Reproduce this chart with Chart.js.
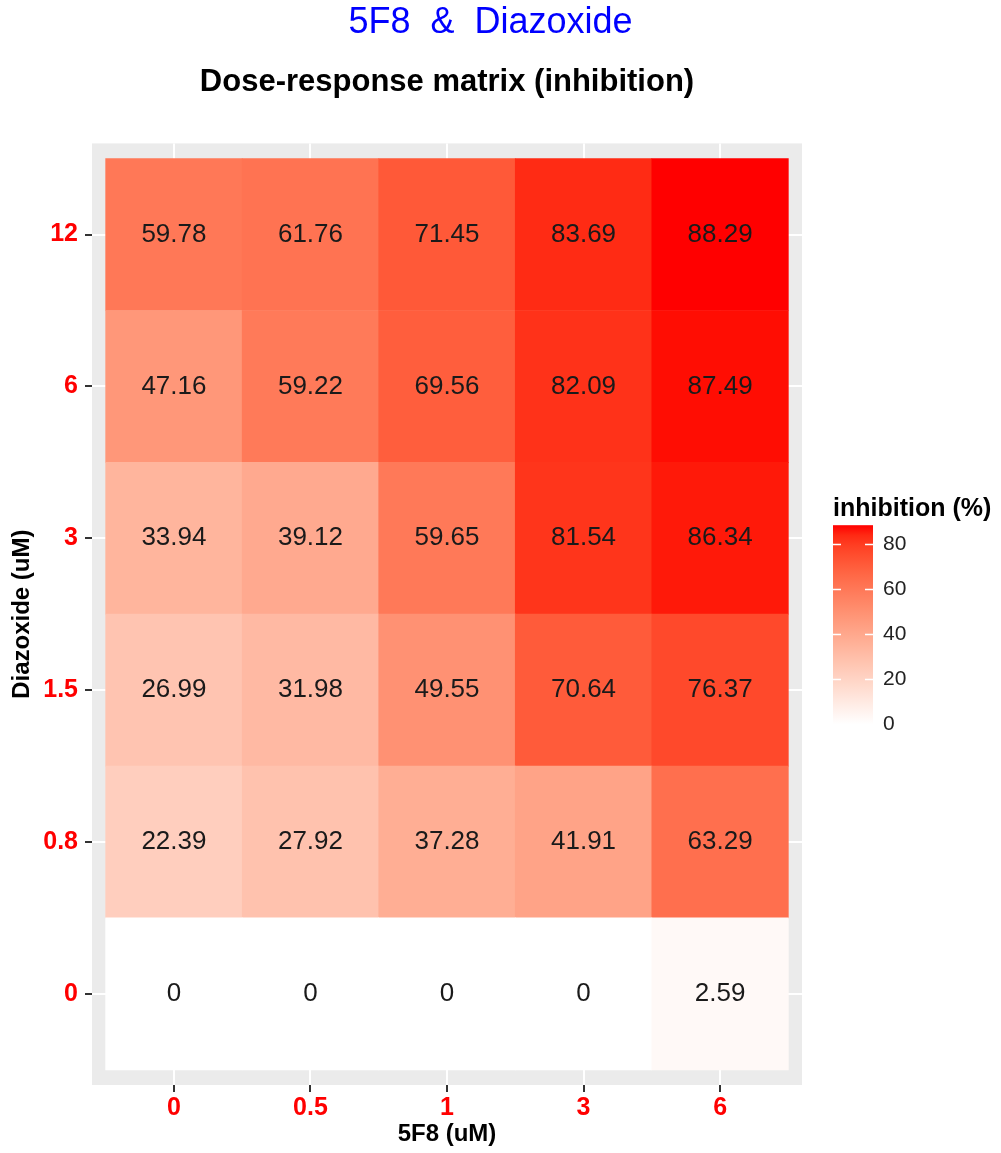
<!DOCTYPE html>
<html>
<head>
<meta charset="utf-8">
<title>5F8 &amp; Diazoxide</title>
<script src="https://cdn.jsdelivr.net/npm/chart.js@4/dist/chart.umd.min.js"></script>
<style>
  html, body { margin: 0; padding: 0; background: #ffffff; }
  #wrap { width: 1001px; height: 1153px; }
  canvas { display: block; }
</style>
</head>
<body>
<div id="wrap"><canvas id="heatmap" width="1001" height="1153"></canvas></div>
<script>
// Doses on each axis (tick labels)
const doses5F8 = ['0', '0.5', '1', '3', '6'];
const dosesDiazoxide = ['0', '0.8', '1.5', '3', '6', '12'];

// Inhibition (%) for each Diazoxide dose, across the 5F8 doses
const inhibitionDiazoxide0   = [0, 0, 0, 0, 2.59];
const inhibitionDiazoxide0_8 = [22.39, 27.92, 37.28, 41.91, 63.29];
const inhibitionDiazoxide1_5 = [26.99, 31.98, 49.55, 70.64, 76.37];
const inhibitionDiazoxide3   = [33.94, 39.12, 59.65, 81.54, 86.34];
const inhibitionDiazoxide6   = [47.16, 59.22, 69.56, 82.09, 87.49];
const inhibitionDiazoxide12  = [59.78, 61.76, 71.45, 83.69, 88.29];

// Colour bar breaks
const legendBreaks = [0, 20, 40, 60, 80];

const inhibitionRows = [
  inhibitionDiazoxide0, inhibitionDiazoxide0_8, inhibitionDiazoxide1_5,
  inhibitionDiazoxide3, inhibitionDiazoxide6, inhibitionDiazoxide12
];

const FONT = '"Liberation Sans", Arial, Helvetica, sans-serif';
const allValues = inhibitionRows.flat();
const fillMin = Math.min(...allValues);
const fillMax = Math.max(...allValues);

// ---- white -> red gradient interpolated in CIE Lab ----
function srgbToLin(c) { c /= 255; return c <= 0.04045 ? c / 12.92 : Math.pow((c + 0.055) / 1.055, 2.4); }
function linToSrgb(c) {
  c = Math.max(0, Math.min(1, c));
  return Math.round(255 * (c <= 0.0031308 ? 12.92 * c : 1.055 * Math.pow(c, 1 / 2.4) - 0.055));
}
const WX = 0.95047, WY = 1.0, WZ = 1.08883;
function rgbToLab([r, g, b]) {
  const R = srgbToLin(r), G = srgbToLin(g), B = srgbToLin(b);
  const X = (0.4124 * R + 0.3576 * G + 0.1805 * B) / WX;
  const Y = (0.2126 * R + 0.7152 * G + 0.0722 * B) / WY;
  const Z = (0.0193 * R + 0.1192 * G + 0.9505 * B) / WZ;
  const f = t => t > 0.008856 ? Math.cbrt(t) : 7.787 * t + 16 / 116;
  const fx = f(X), fy = f(Y), fz = f(Z);
  return [116 * fy - 16, 500 * (fx - fy), 200 * (fy - fz)];
}
function labToRgb([L, a, bb]) {
  const fy = (L + 16) / 116, fx = fy + a / 500, fz = fy - bb / 200;
  const finv = t => t * t * t > 0.008856 ? t * t * t : (t - 16 / 116) / 7.787;
  const X = finv(fx) * WX, Y = finv(fy) * WY, Z = finv(fz) * WZ;
  const R = 3.2406 * X - 1.5372 * Y - 0.4986 * Z;
  const G = -0.9689 * X + 1.8758 * Y + 0.0415 * Z;
  const B = 0.0557 * X - 0.2040 * Y + 1.0570 * Z;
  return [linToSrgb(R), linToSrgb(G), linToSrgb(B)];
}
const labLow = rgbToLab([255, 255, 255]);
const labHigh = rgbToLab([255, 0, 0]);
function fillFor(v) {
  const t = Math.max(0, Math.min(1, (v - fillMin) / (fillMax - fillMin)));
  const lab = labLow.map((l, i) => l + (labHigh[i] - l) * t);
  const [r, g, b] = labToRgb(lab);
  return `rgb(${r},${g},${b})`;
}

// ---- plot panel background ----
const panelBackground = {
  id: 'panelBackground',
  beforeDraw(chart) {
    const { ctx, chartArea: a } = chart;
    ctx.save();
    ctx.fillStyle = '#ffffff';
    ctx.fillRect(0, 0, chart.width, chart.height);
    ctx.fillStyle = '#EBEBEB';
    ctx.fillRect(a.left, a.top, a.right - a.left, a.bottom - a.top);
    ctx.restore();
  }
};

// ---- value labels in every tile ----
const tileLabels = {
  id: 'tileLabels',
  afterDatasetsDraw(chart) {
    const { ctx } = chart;
    ctx.save();
    ctx.font = `26px ${FONT}`;
    ctx.fillStyle = '#1a1a1a';
    ctx.textAlign = 'center';
    ctx.textBaseline = 'middle';
    chart.data.datasets.forEach((ds, r) => {
      const meta = chart.getDatasetMeta(r);
      meta.data.forEach((bar, c) => {
        const v = inhibitionRows[r][c];
        ctx.fillText(String(v), bar.x, (bar.y + bar.base) / 2);
      });
    });
    ctx.restore();
  }
};

// ---- colour bar legend as a layout box on the right ----
const colorbarBox = {
  position: 'right',
  weight: 0,
  fullSize: false,
  options: {},
  top: 0, left: 0, right: 0, bottom: 0, width: 0, height: 0,
  isHorizontal() { return false; },
  update(maxWidth, maxHeight) {
    this.width = 179;
    this.height = maxHeight;
    return { width: this.width, height: this.height };
  },
  draw() {
    const chart = this.chart;
    const ctx = chart.ctx;
    const mid = (chart.chartArea.top + chart.chartArea.bottom) / 2;
    const barLeft = this.left + 31, barW = 40;
    const barBottom = mid + 110, barTop = mid - 89;
    const yFor = v => barBottom - (v - fillMin) / (fillMax - fillMin) * (barBottom - barTop);

    ctx.save();
    // title
    ctx.font = `bold 25px ${FONT}`;
    ctx.fillStyle = '#000000';
    ctx.textAlign = 'left';
    ctx.textBaseline = 'middle';
    ctx.fillText('inhibition (%)', barLeft, barTop - 16);

    // gradient bar
    const grad = ctx.createLinearGradient(0, barBottom, 0, barTop);
    for (let i = 0; i <= 20; i++) {
      const t = i / 20;
      grad.addColorStop(t, fillFor(fillMin + t * (fillMax - fillMin)));
    }
    ctx.fillStyle = grad;
    ctx.fillRect(barLeft, barTop, barW, barBottom - barTop);

    // break marks and labels
    ctx.strokeStyle = '#ffffff';
    ctx.lineWidth = 1.5;
    ctx.font = `21px ${FONT}`;
    ctx.fillStyle = '#222222';
    legendBreaks.forEach(b => {
      const y = Math.round(yFor(b)) + 0.5;
      ctx.beginPath();
      ctx.moveTo(barLeft, y); ctx.lineTo(barLeft + 8, y);
      ctx.moveTo(barLeft + barW - 8, y); ctx.lineTo(barLeft + barW, y);
      ctx.stroke();
      ctx.fillText(String(b), barLeft + barW + 10, yFor(b));
    });
    ctx.restore();
  }
};

const colorbarPlugin = {
  id: 'colorbar',
  beforeInit(chart) {
    colorbarBox.chart = chart;
    Chart.layouts.addBox(chart, colorbarBox);
  }
};

const tickFont = { family: FONT, size: 25, weight: 'bold' };
const titleFont = { family: FONT, size: 24, weight: 'bold' };

const datasets = dosesDiazoxide.map((dose, r) => ({
  label: dose,
  data: doses5F8.map((_, c) => ({ x: c, y: [r - 0.5, r + 0.5] })),
  backgroundColor: inhibitionRows[r].map(fillFor),
  borderWidth: 0,
  grouped: false,
  barPercentage: 1,
  categoryPercentage: 1
}));

new Chart(document.getElementById('heatmap'), {
  type: 'bar',
  data: { datasets },
  plugins: [panelBackground, tileLabels, colorbarPlugin],
  options: {
    responsive: false,
    animation: false,
    events: [],
    layout: { padding: { left: 0, right: 20, top: 0, bottom: 0 } },
    plugins: {
      legend: { display: false },
      tooltip: { enabled: false },
      title: {
        display: true,
        text: '5F8  &  Diazoxide',
        color: '#0000ff',
        font: { family: FONT, size: 36, weight: 'normal' },
        padding: { top: 1, bottom: 8 }
      },
      subtitle: {
        display: true,
        text: 'Dose-response matrix (inhibition)',
        color: '#000000',
        fullSize: false,
        font: { family: FONT, size: 31, weight: 'bold' },
        padding: { top: 12, bottom: 42 }
      }
    },
    scales: {
      x: {
        type: 'linear',
        offset: false,
        min: -0.6,
        max: 4.6,
        afterBuildTicks(scale) { scale.ticks = doses5F8.map((_, i) => ({ value: i })); },
        afterFit(scale) { scale.height = 68; },
        ticks: {
          callback: (v, i) => doses5F8[i],
          color: '#ff0000',
          font: tickFont,
          padding: 1,
          autoSkip: false,
          maxRotation: 0
        },
        grid: { offset: false, color: '#ffffff', lineWidth: 2, tickColor: '#333333', tickLength: 7, tickWidth: 2 },
        border: { display: false },
        title: {
          display: true,
          text: '5F8 (uM)',
          color: '#000000',
          font: titleFont,
          padding: { top: 0, bottom: 4 }
        }
      },
      y: {
        type: 'linear',
        min: -0.6,
        max: 5.6,
        afterBuildTicks(scale) { scale.ticks = dosesDiazoxide.map((_, i) => ({ value: i })); },
        afterFit(scale) { scale.width = 92; },
        ticks: {
          callback: (v, i) => dosesDiazoxide[i],
          color: '#ff0000',
          font: tickFont,
          padding: 7,
          autoSkip: false
        },
        grid: { color: '#ffffff', lineWidth: 2, tickColor: '#333333', tickLength: 7, tickWidth: 2 },
        border: { display: false },
        title: {
          display: true,
          text: 'Diazoxide (uM)',
          color: '#000000',
          font: titleFont,
          padding: { top: 8, bottom: 0 }
        }
      }
    }
  }
});
</script>
</body>
</html>
